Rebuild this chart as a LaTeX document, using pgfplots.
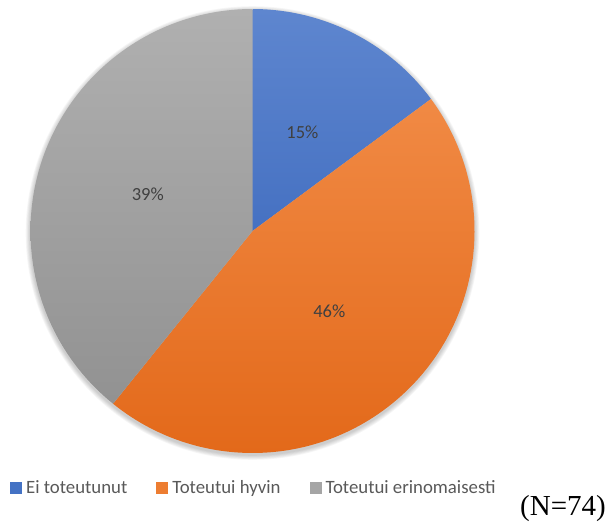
\documentclass[border=0pt]{standalone}
\usepackage{pgfplots}
\pgfplotsset{compat=1.18}
\usepackage{pgfplotstable}
\usepackage{fontspec}
\setmainfont{Carlito}
\newfontfamily\timesfont{Liberation Serif}

\definecolor{bluetop}{HTML}{5E86CF}
\definecolor{bluebot}{HTML}{2D5CB5}
\definecolor{bluemid}{HTML}{4472C4}
\definecolor{ortop}{HTML}{F4924F}
\definecolor{orbot}{HTML}{E3691A}
\definecolor{ormid}{HTML}{ED7D31}
\definecolor{grtop}{HTML}{B0B0B0}
\definecolor{grbot}{HTML}{8E8E8E}
\definecolor{grmid}{HTML}{A5A5A5}
\definecolor{labelgray}{HTML}{404040}
\definecolor{legendgray}{HTML}{595959}

\pgfplotstableread{
name count top bottom
{Ei toteutunut} 11 bluetop bluebot
{Toteutui hyvin} 34 ortop orbot
{Toteutui erinomaisesti} 29 grtop grbot
}\piedata

\begin{document}
\begin{tikzpicture}
\begin{axis}[
  hide axis,
  scale only axis,
  width=611pt, height=522pt,
  xmin=0, xmax=611, ymin=0, ymax=522,
  y dir=reverse,
  clip=false,
  legend columns=3,
  legend style={
    at={(axis cs:10,488)}, anchor=west,
    draw=none, fill=none, inner sep=0pt,
    font=\fontsize{18.8}{21}\selectfont,
    text=legendgray,
    nodes={inner sep=0pt},
    /tikz/every odd column/.append style={column sep=4.5pt},
    /tikz/every even column/.append style={column sep=29pt},
  },
]
\addlegendimage{legend image code/.code={\fill[bluemid] (0pt,-5.5pt) rectangle (11pt,5.5pt);}}
\addlegendentry{Ei toteutunut}
\addlegendimage{legend image code/.code={\fill[ormid] (0pt,-5.5pt) rectangle (11pt,5.5pt);}}
\addlegendentry{Toteutui hyvin}
\addlegendimage{legend image code/.code={\fill[grmid] (0pt,-5.5pt) rectangle (11pt,5.5pt);}}
\addlegendentry{Toteutui erinomaisesti}

\pgfplotsextra{
  \foreach \k in {1,...,6}{%
    \fill[black, opacity=0.035] (axis cs:252.5,233) circle[radius={222pt+\k*0.8pt}];
  }
  \gdef\tot{0}
  \foreach \i in {0,1,2}{%
    \pgfplotstablegetelem{\i}{count}\of\piedata
    \pgfmathsetmacro\t{\tot+\pgfplotsretval}\xdef\tot{\t}%
  }
  \gdef\cum{0}
  \foreach \i in {0,1,2}{%
    \pgfplotstablegetelem{\i}{count}\of\piedata \let\cnt\pgfplotsretval
    \pgfplotstablegetelem{\i}{top}\of\piedata \let\ctop\pgfplotsretval
    \pgfplotstablegetelem{\i}{bottom}\of\piedata \let\cbot\pgfplotsretval
    \pgfmathsetmacro\a{90-\cum/\tot*360}%
    \pgfmathsetmacro\b{90-(\cum+\cnt)/\tot*360}%
    \pgfmathsetmacro\m{(\a+\b)/2}%
    \pgfmathtruncatemacro\p{round(\cnt/\tot*100)}%
    \begin{scope}
      \clip (axis cs:252.5,231) -- ++(\a:222pt) arc[start angle=\a, end angle=\b, radius=222pt] -- cycle;
      \shade[top color=\ctop, bottom color=\cbot] (axis cs:30,9) rectangle (axis cs:475,453);
    \end{scope}
    \path (axis cs:252.5,231) ++(\m:111pt) node[font=\fontsize{18.5}{20}\selectfont, text=labelgray] {\p\%};
    \pgfmathsetmacro\c{\cum+\cnt}\xdef\cum{\c}%
  }
  \node[anchor=base east, inner sep=0pt, font=\timesfont\fontsize{29}{32}\selectfont] at (axis cs:606,515) {(N=74)};
}
\end{axis}
\pgfresetboundingbox
\path (0,0) rectangle (611pt,522pt);
\end{tikzpicture}
\end{document}
